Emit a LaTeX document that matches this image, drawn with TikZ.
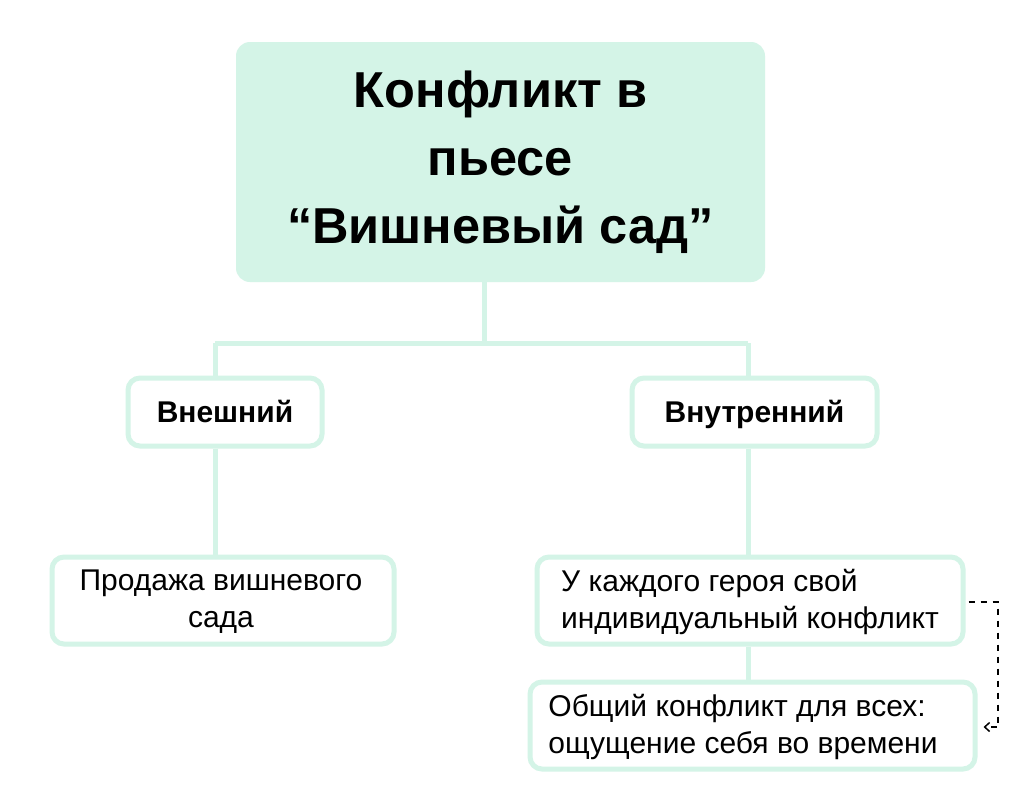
\documentclass[tikz,border=0pt]{standalone}
\usepackage{fontspec}
\setmainfont{Liberation Sans}
\usetikzlibrary{arrows.meta}
\definecolor{mint}{HTML}{D4F4E7}
\begin{document}
\begin{tikzpicture}[x=1pt,y=-1pt,
  box/.style={draw=mint, line width=5pt, rounded corners=12pt, fill=white, inner sep=0pt},
  link/.style={draw=mint, line width=5pt},
  txt/.style={font=\fontsize{30}{37}\selectfont, inner sep=0pt},
  head/.style={font=\bfseries\fontsize{30}{36}\selectfont, text height=21.5pt, text depth=0pt}
]
\useasboundingbox (0,0) rectangle (1024,807);
\fill[white] (0,0) rectangle (1024,807);
% top
\node[fill=mint, rounded corners=14pt, minimum width=529pt, minimum height=240pt,
  align=center, font=\bfseries\fontsize{50.5}{68}\selectfont] (top) at (500.5,162)
  {Конфликт в\\пьесе\\“Вишневый сад”};
\coordinate (hub) at (484,343);
\coordinate (hl) at (215,343);
\coordinate (hr) at (748,343);
\draw[link] (top.south -| hub) -- (hub);
\draw[link] (hl) -- (hr);
% level 2
\node[box, head, minimum width=194pt, minimum height=68pt] (ext) at (225,412) {Внешний};
\node[box, head, minimum width=245pt, minimum height=68pt] (int) at (754.5,412) {Внутренний};
% level 3
\node[box, minimum width=342pt, minimum height=87pt] (salebox) at (223,600.5) {};
\node[txt, align=center] (sale) at (221,602) {Продажа вишневого\\сада};
\node[box, minimum width=426pt, minimum height=87pt] (eachbox) at (750,600.5) {};
\node[txt, align=left] (each) at (750,602) {У каждого героя свой\\индивидуальный конфликт};
\node[box, minimum width=445pt, minimum height=87pt] (allbox) at (752.5,725.5) {};
\node[txt, align=left] (all) at (743,727) {Общий конфликт для всех:\\ощущение себя во времени};
% links
\draw[link] (hl) -- (hl |- ext.north);
\draw[link] (hr) -- (hr |- int.north);
\draw[link] (ext.south -| hl) -- (hl |- salebox.north);
\draw[link] (int.south -| hr) -- (hr |- eachbox.north);
\draw[link] (eachbox.south -| hr) -- (hr |- allbox.north);
\coordinate (d1) at (998,602);
\coordinate (d2) at (998,727);
\draw[line width=1.5pt, dash pattern=on 6pt off 6pt, -{Straight Barb[length=5pt,width=9pt]}]
  ([xshift=3pt]eachbox.east |- d1) -- (d1) -- (d2) -- ([xshift=6pt]allbox.east |- d2);
\end{tikzpicture}
\end{document}
